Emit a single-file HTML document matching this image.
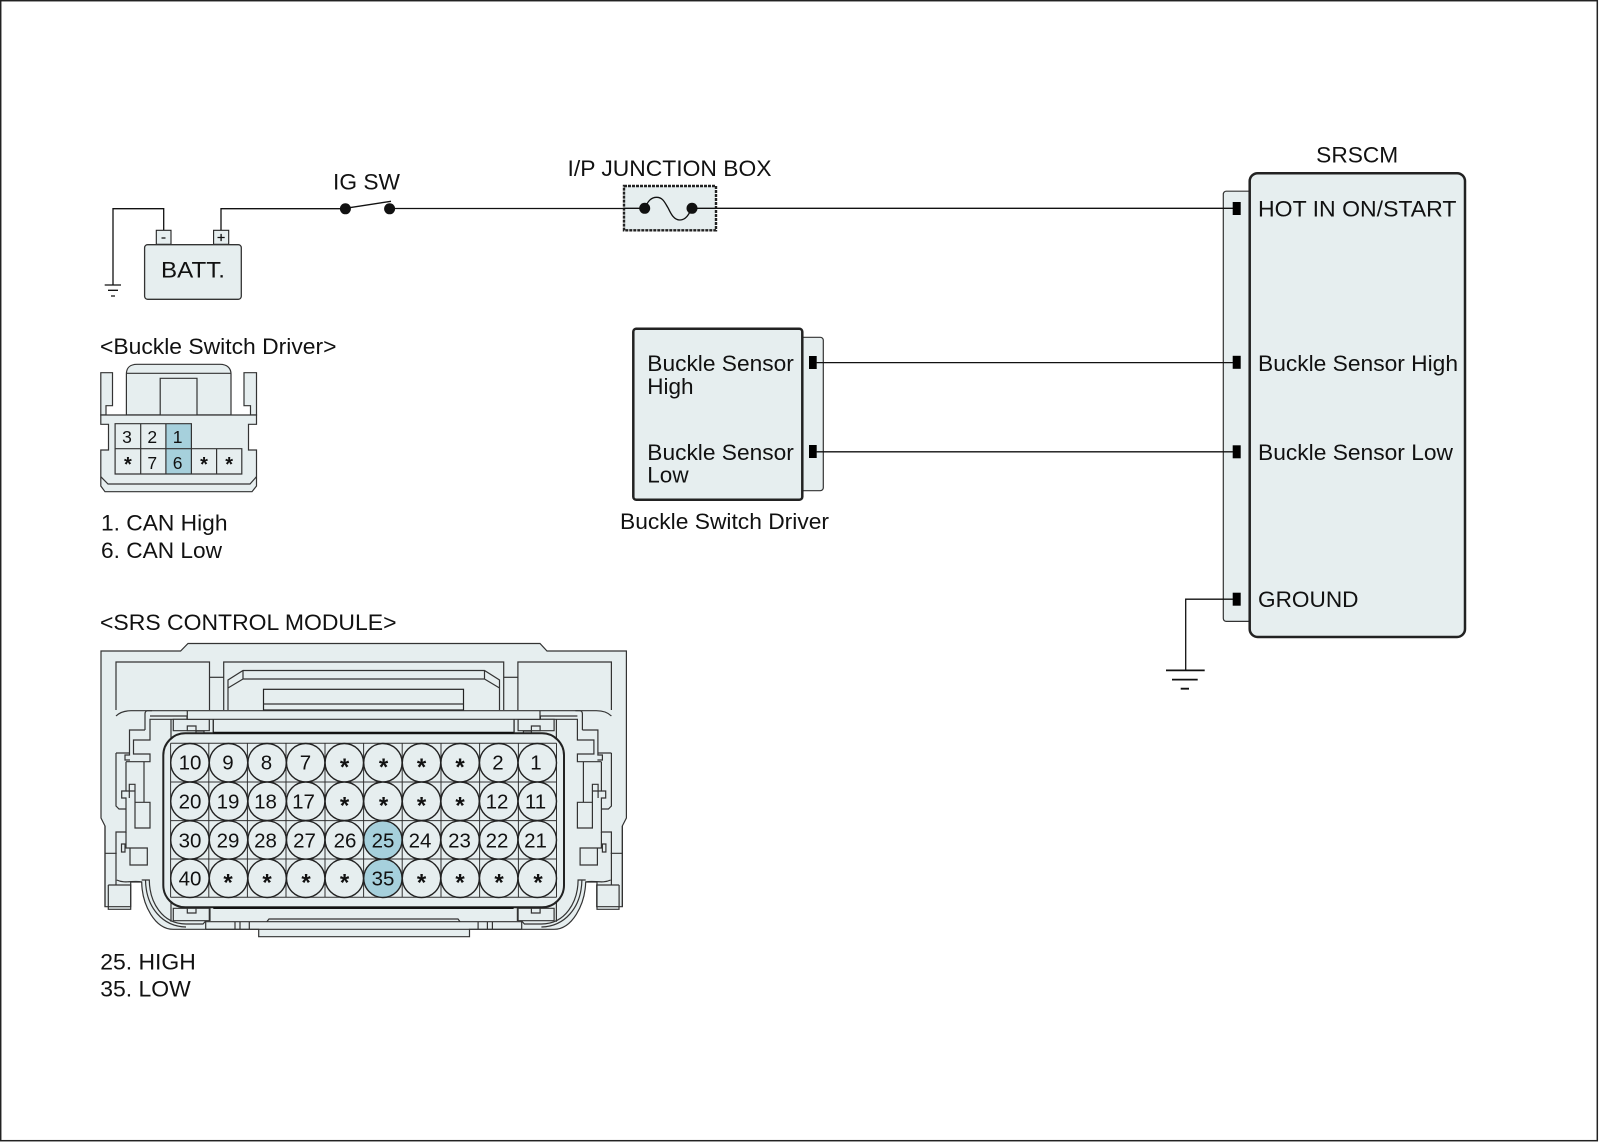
<!DOCTYPE html>
<html><head><meta charset="utf-8">
<style>
html,body{margin:0;padding:0;background:#fff;width:1600px;height:1143px;overflow:hidden}
svg{display:block}
text{font-family:"Liberation Sans",Arial,sans-serif;fill:#111}
.t{font-size:22.5px}
.n{font-size:20.5px;text-anchor:middle}
.s{font-size:24px;text-anchor:middle;font-weight:bold}
.m{font-size:17.5px;text-anchor:middle}
.ms{font-size:20px;text-anchor:middle;font-weight:bold}
.w{fill:none;stroke:#111;stroke-width:1.3}
.l{fill:none;stroke:#333;stroke-width:1.2}
.lf{fill:#e6eeef;stroke:#333;stroke-width:1.2}
.c{fill:#e6eeef;stroke:#222;stroke-width:1.4}
.h{fill:#a6d0dc;stroke:#222;stroke-width:1.4}
</style></head><body>
<svg width="1600" height="1143" viewBox="0 0 1600 1143" xmlns="http://www.w3.org/2000/svg">
<defs>
<g id="side">
<path class="l" d="M116 710V662H209.5V710"/>
<path class="l" d="M209.5 677.3H223.7"/>
<path class="l" d="M116 716C120 712 125 710.7 131 710.7H187"/>
<path class="l" d="M145 730V714C145 712 146 710.7 148 710.7H152"/>
<path class="l" d="M145 730H129.5V755H125V760H130"/>
<path class="l" d="M150 716H187V719.3H150V740H133.5V754H150V761.7H126"/>
<path class="l" d="M116 753H129M116 753V806L119 809H126"/>
<path class="l" d="M126 761.7V791H121.7V798H126V832H116V885"/>
<path class="l" d="M126 791H135M129.3 798V784.3H135V828H150V802.3H135"/>
<path class="l" d="M130 848H147.3V865H130V848M126 832V848H130"/>
<path class="l" d="M121.5 844H125V852H121.5Z"/>
<path class="l" d="M144 761.7V802.3"/>
<path class="l" d="M105 826V906.7M105 853.3H116.7M116.7 880C125 884 134 880 141.7 882M108.3 885H130.7V888M108.3 885V906.7H130.7V888"/>
<path class="l" d="M171 719.3V743.3M171 897.3V921.7"/>
<path class="lf" d="M173.3 719.3H209.3V730.7H173.3Z"/>
<path class="lf" d="M187.3 726H196V730.7H187.3Z"/>
<path class="lf" d="M173.3 908.3H209.3V920.7H173.3Z"/>
<path class="lf" d="M187.3 908.3H196V913H187.3Z"/>
<path class="l" d="M141.7 880H149.3C149.5 902 162 924 186 924H203L205.7 921M145.5 880C146 908 163 926.5 186 927"/>
<path class="l" d="M196 731V735H204V731H196ZM233.3 733V737H241.7V733ZM196 907V902H204V907ZM233 907V902H241V907ZM211.5 907V903H222V907Z"/>
<path class="l" d="M205.7 921V929.3M235 921.7V929.3M240 921.7V929.3M249.3 921.7V929.3"/>
<path class="l" d="M213.3 719.3V733M210 907V921"/>
</g>
</defs>
<rect x="0.7" y="0.7" width="1596.6" height="1140" fill="#fff" stroke="#222" stroke-width="1.5"/>

<!-- Battery -->
<path class="w" d="M113 285V208.7H163.7V230.3"/>
<path class="w" d="M221 230.3V208.7H345"/>
<path class="w" stroke-width="1" d="M104.7 285H121M108 290.3H118M111 296H115"/>
<rect x="156.3" y="230.3" width="14.7" height="14" fill="#e6eeef" stroke="#222" stroke-width="1.1"/>
<rect x="213.6" y="230.3" width="15.1" height="14" fill="#e6eeef" stroke="#222" stroke-width="1.1"/>
<path class="w" stroke-width="1.2" d="M161.5 238H165.5M217.5 237.5H224.7M221.1 233.9V241.1"/>
<rect x="144.6" y="244.7" width="96.7" height="54.6" rx="3" fill="#e6eeef" stroke="#333" stroke-width="1.3"/>
<text class="t" x="161" y="277.7" textLength="64" lengthAdjust="spacingAndGlyphs">BATT.</text>

<!-- IG SW -->
<text class="t" x="333" y="189.3" textLength="67" lengthAdjust="spacingAndGlyphs">IG SW</text>
<circle cx="345.4" cy="208.8" r="5.5" fill="#111"/>
<circle cx="389.6" cy="208.8" r="5.5" fill="#111"/>
<path class="w" d="M345.4 208.3L391 201.3"/>
<path class="w" d="M389.6 208.5H623.3"/>

<!-- Junction -->
<text class="t" x="567.5" y="176" textLength="204" lengthAdjust="spacingAndGlyphs">I/P JUNCTION BOX</text>
<rect x="624" y="186" width="92" height="44.3" fill="#e6eeef" stroke="#222" stroke-width="2.4" stroke-dasharray="3 1"/>

<!-- SRSCM -->
<text class="t" x="1316.2" y="162.5" textLength="82" lengthAdjust="spacingAndGlyphs">SRSCM</text>
<rect x="1223.3" y="191.2" width="40" height="430.2" rx="3" fill="#e6eeef" stroke="#333" stroke-width="1.2"/>
<rect x="1249.7" y="173.2" width="215.3" height="463.8" rx="8" fill="#e6eeef" stroke="#222" stroke-width="2.5"/>
<path class="w" d="M623.3 208.3H644.7M692 208.3H1233"/>
<path class="w" stroke-width="1.2" d="M644.7 208.3C648 201 651 197.3 656.7 197.3C663 197.3 665 203 668.3 208.3C671 214 674 220 680 220C686 220 689 214 692 208.3"/>
<circle cx="644.7" cy="208.3" r="5.5" fill="#111"/>
<circle cx="692" cy="208.3" r="5.5" fill="#111"/>
<rect x="1232.7" y="202" width="8" height="13" fill="#000"/>
<rect x="1232.7" y="355.8" width="8" height="13" fill="#000"/>
<rect x="1232.7" y="445.3" width="8" height="13" fill="#000"/>
<rect x="1232.7" y="592.7" width="8" height="13" fill="#000"/>
<text class="t" x="1258" y="216.3" textLength="198.5" lengthAdjust="spacingAndGlyphs">HOT IN ON/START</text>
<text class="t" x="1258" y="371" textLength="200" lengthAdjust="spacingAndGlyphs">Buckle Sensor High</text>
<text class="t" x="1258" y="459.9" textLength="195" lengthAdjust="spacingAndGlyphs">Buckle Sensor Low</text>
<text class="t" x="1258" y="607" textLength="100.5" lengthAdjust="spacingAndGlyphs">GROUND</text>
<path class="w" stroke-width="1.2" d="M1233 599.2H1185.7V670.4"/>
<path fill="none" stroke="#111" stroke-width="1.8" d="M1166 670.4H1204.7M1172 679.6H1197.7M1180.7 688.7H1189"/>

<!-- Buckle Switch Driver -->
<rect x="790" y="337.3" width="33.3" height="153.4" rx="3" fill="#e6eeef" stroke="#333" stroke-width="1.2"/>
<rect x="633.3" y="328.7" width="169" height="171" rx="3" fill="#e6eeef" stroke="#222" stroke-width="2.5"/>
<rect x="809" y="356" width="7.7" height="13" fill="#000"/>
<rect x="809" y="445" width="7.7" height="13" fill="#000"/>
<path class="w" d="M816 362.6H1233M816 451.8H1233"/>
<text class="t" x="647.3" y="371" textLength="146.5" lengthAdjust="spacingAndGlyphs">Buckle Sensor</text>
<text class="t" x="647.3" y="394">High</text>
<text class="t" x="647.3" y="460" textLength="146.5" lengthAdjust="spacingAndGlyphs">Buckle Sensor</text>
<text class="t" x="647.3" y="482.7">Low</text>
<text class="t" x="620" y="529" textLength="209" lengthAdjust="spacingAndGlyphs">Buckle Switch Driver</text>

<!-- Small connector -->
<text class="t" x="100" y="354" textLength="236.5" lengthAdjust="spacingAndGlyphs">&lt;Buckle Switch Driver&gt;</text>
<path class="lf" d="M126.4 415V374C126.4 368 130 364.3 137 364.3H220C227 364.3 231 368 231 374V415Z"/>
<path class="l" d="M126.4 373.3H231"/>
<path class="lf" d="M100.8 415V372.7H112.5V405.7H106V415Z"/>
<path class="lf" d="M256.5 415V372.7H244V405.7H250.5V415Z"/>
<path class="lf" d="M160.2 415V378.3H197V415"/>
<path class="lf" d="M100.8 415H256.5V424.3H248.5V450H256.5V486L252 491.7H105L100.8 486V450H108.5V424.3H100.8Z"/>
<path class="l" d="M100.8 476.7L108 484H250L256.5 476.7"/>
<rect x="165.9" y="423.7" width="25.5" height="50.3" fill="#a6d0dc"/>
<path class="l" d="M115.1 448.7V423.7H191.4V474H115.1V448.7H241.8V474H191.4M140.7 423.7V474M165.9 423.7V474M216.6 448.7V474"/>
<text class="m" x="127" y="443">3</text><text class="m" x="152.3" y="443">2</text><text class="m" x="177.6" y="443">1</text>
<text class="ms" x="127.9" y="471.2">*</text><text class="m" x="152.3" y="469">7</text><text class="m" x="177.6" y="469">6</text><text class="ms" x="204" y="471.2">*</text><text class="ms" x="229.2" y="471.2">*</text>
<text class="t" x="101" y="530.7" textLength="126.5" lengthAdjust="spacingAndGlyphs">1. CAN High</text>
<text class="t" x="101" y="558" textLength="121" lengthAdjust="spacingAndGlyphs">6. CAN Low</text>

<!-- SRS connector -->
<text class="t" x="100" y="630" textLength="296.5" lengthAdjust="spacingAndGlyphs">&lt;SRS CONTROL MODULE&gt;</text>
<path class="lf" d="M101 651H180.6L188 643.5H540L547 651H626.4V818L622.3 826V906.7H619V909.3H597V882H585.7C585 905 572 929.3 554 929.3H469.5V936.7H258.7V929.3H173.3C155 929.3 142 905 141.7 882H130.7V909.3H108.3V906.7H105V826L101 818Z"/>

<!-- central top -->
<path class="l" d="M223.7 710V662H503.7V710"/>
<path class="l" d="M228 710V680L243 670.5H484.5L499.5 680V710M243 670.5V679H484.5V670.5M228 688L243 679M499.5 688L484.5 679"/>
<rect x="263.5" y="689.3" width="200" height="20.7" fill="none" stroke="#222" stroke-width="1.2"/>
<path class="l" d="M263.5 704H463.5"/>

<!-- mirrored left/right details -->
<use href="#side"/>
<use href="#side" transform="translate(727.4,0) scale(-1,1)"/>

<!-- horizontal bands -->
<path class="lf" d="M187.3 710.7H540V719.3H187.3Z"/>
<path class="l" d="M213.3 719.3V733M514 719.3V733"/>
<path class="l" d="M205.7 921.7H521.7M205.7 929.3H521.7"/>
<path class="l" d="M266.8 921.7L269 919H458L460 921.7"/>

<!-- main rounded body -->
<rect x="163.3" y="733.3" width="400.7" height="174" rx="22" fill="#e6eeef" stroke="#222" stroke-width="2"/>
<path fill="none" stroke="#111" stroke-width="2" d="M213.3 732.7H513.6M213.3 908H513.6"/>

<!-- Grid -->
<path fill="none" stroke="#333" stroke-width="1" d="M170.6 743.3H556.5M170.6 782H556.5M170.6 820.6H556.5M170.6 859H556.5M170.6 897.3H556.5M170.6 743.3V897.3M208.8 743.3V897.3M247.4 743.3V897.3M286 743.3V897.3M325 743.3V897.3M363.6 743.3V897.3M402.2 743.3V897.3M441 743.3V897.3M479.6 743.3V897.3M518.4 743.3V897.3M556.5 743.3V897.3"/>

<circle class="c" cx="189.9" cy="762.7" r="19.2"/><circle class="c" cx="228.5" cy="762.7" r="19.2"/><circle class="c" cx="267.1" cy="762.7" r="19.2"/><circle class="c" cx="305.7" cy="762.7" r="19.2"/><circle class="c" cx="344.3" cy="762.7" r="19.2"/><circle class="c" cx="382.9" cy="762.7" r="19.2"/><circle class="c" cx="421.5" cy="762.7" r="19.2"/><circle class="c" cx="460.1" cy="762.7" r="19.2"/><circle class="c" cx="498.7" cy="762.7" r="19.2"/><circle class="c" cx="537.3" cy="762.7" r="19.2"/>
<circle class="c" cx="189.9" cy="801.3" r="19.2"/><circle class="c" cx="228.5" cy="801.3" r="19.2"/><circle class="c" cx="267.1" cy="801.3" r="19.2"/><circle class="c" cx="305.7" cy="801.3" r="19.2"/><circle class="c" cx="344.3" cy="801.3" r="19.2"/><circle class="c" cx="382.9" cy="801.3" r="19.2"/><circle class="c" cx="421.5" cy="801.3" r="19.2"/><circle class="c" cx="460.1" cy="801.3" r="19.2"/><circle class="c" cx="498.7" cy="801.3" r="19.2"/><circle class="c" cx="537.3" cy="801.3" r="19.2"/>
<circle class="c" cx="189.9" cy="840" r="19.2"/><circle class="c" cx="228.5" cy="840" r="19.2"/><circle class="c" cx="267.1" cy="840" r="19.2"/><circle class="c" cx="305.7" cy="840" r="19.2"/><circle class="c" cx="344.3" cy="840" r="19.2"/><circle class="h" cx="382.9" cy="840" r="19.2"/><circle class="c" cx="421.5" cy="840" r="19.2"/><circle class="c" cx="460.1" cy="840" r="19.2"/><circle class="c" cx="498.7" cy="840" r="19.2"/><circle class="c" cx="537.3" cy="840" r="19.2"/>
<circle class="c" cx="189.9" cy="878.3" r="19.2"/><circle class="c" cx="228.5" cy="878.3" r="19.2"/><circle class="c" cx="267.1" cy="878.3" r="19.2"/><circle class="c" cx="305.7" cy="878.3" r="19.2"/><circle class="c" cx="344.3" cy="878.3" r="19.2"/><circle class="h" cx="382.9" cy="878.3" r="19.2"/><circle class="c" cx="421.5" cy="878.3" r="19.2"/><circle class="c" cx="460.1" cy="878.3" r="19.2"/><circle class="c" cx="498.7" cy="878.3" r="19.2"/><circle class="c" cx="537.3" cy="878.3" r="19.2"/>

<text class="n" x="190" y="769.7">10</text><text class="n" x="228" y="769.7">9</text><text class="n" x="266.5" y="769.7">8</text><text class="n" x="305.5" y="769.7">7</text><text class="s" x="344.5" y="774.8">*</text><text class="s" x="383.5" y="774.8">*</text><text class="s" x="421.5" y="774.8">*</text><text class="s" x="460" y="774.8">*</text><text class="n" x="498" y="769.7">2</text><text class="n" x="536" y="769.7">1</text>
<text class="n" x="190" y="808.3">20</text><text class="n" x="228" y="808.3">19</text><text class="n" x="265.5" y="808.3">18</text><text class="n" x="303.5" y="808.3">17</text><text class="s" x="344.5" y="813.5">*</text><text class="s" x="383.5" y="813.5">*</text><text class="s" x="421.5" y="813.5">*</text><text class="s" x="460" y="813.5">*</text><text class="n" x="497" y="808.3">12</text><text class="n" x="535.5" y="808.3">11</text>
<text class="n" x="190" y="847.3">30</text><text class="n" x="228" y="847.3">29</text><text class="n" x="265.5" y="847.3">28</text><text class="n" x="304.5" y="847.3">27</text><text class="n" x="345" y="847.3">26</text><text class="n" x="383" y="847.3">25</text><text class="n" x="420" y="847.3">24</text><text class="n" x="459.5" y="847.3">23</text><text class="n" x="497" y="847.3">22</text><text class="n" x="535.5" y="847.3">21</text>
<text class="n" x="190" y="885.3">40</text><text class="s" x="228" y="890.6">*</text><text class="s" x="267" y="890.6">*</text><text class="s" x="306" y="890.6">*</text><text class="s" x="344.5" y="890.6">*</text><text class="n" x="383" y="885.3">35</text><text class="s" x="421.5" y="890.6">*</text><text class="s" x="460" y="890.6">*</text><text class="s" x="499" y="890.6">*</text><text class="s" x="538" y="890.6">*</text>

<text class="t" x="100.3" y="969.3" textLength="95.5" lengthAdjust="spacingAndGlyphs">25. HIGH</text>
<text class="t" x="100.3" y="996.7" textLength="90.5" lengthAdjust="spacingAndGlyphs">35. LOW</text>
</svg>
</body></html>
